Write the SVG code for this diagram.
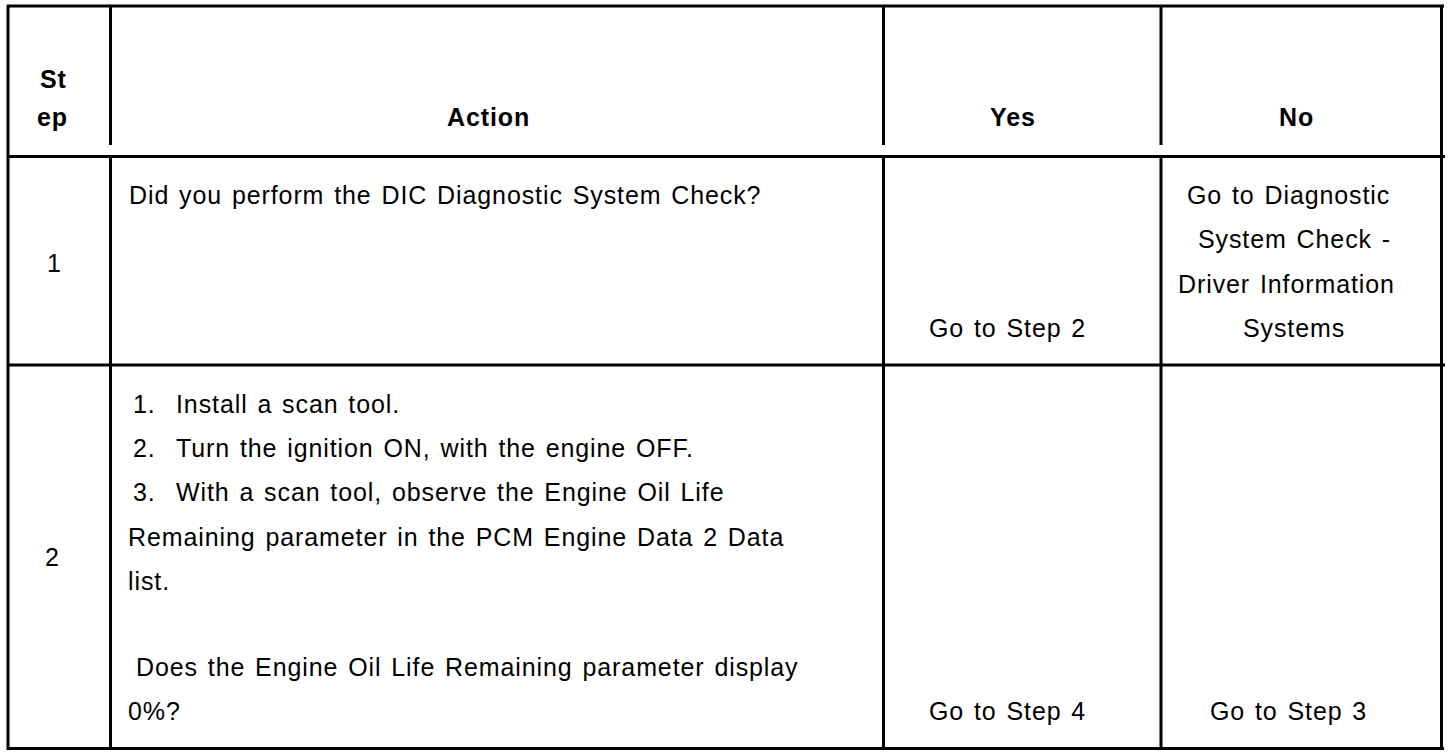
<svg xmlns="http://www.w3.org/2000/svg" width="1456" height="754" viewBox="0 0 1456 754">
<style>
  .ln { stroke: #000; stroke-width: 3; fill: none; }
  text { font-family: "Liberation Sans", Arial, sans-serif; font-size: 25px; letter-spacing: 0.9px; word-spacing: 2px; fill: #000; }
  .b { font-weight: bold; }
</style>
<rect x="0" y="0" width="1456" height="754" fill="#fff"/>
<g id="grid">
  <line class="ln" x1="7" y1="6" x2="1444" y2="6"/>
  <line class="ln" x1="8" y1="5" x2="8" y2="750"/>
  <line class="ln" x1="1441.5" y1="5" x2="1441.5" y2="750"/>
  <line class="ln" x1="7" y1="748.5" x2="1444" y2="748.5"/>
  <line class="ln" x1="7" y1="156.5" x2="1445" y2="156.5"/>
  <line class="ln" x1="7" y1="365" x2="1445" y2="365"/>
  <line class="ln" x1="110.5" y1="5" x2="110.5" y2="145"/>
  <line class="ln" x1="110.5" y1="157" x2="110.5" y2="749"/>
  <line class="ln" x1="883.5" y1="5" x2="883.5" y2="145"/>
  <line class="ln" x1="883.5" y1="157" x2="883.5" y2="749"/>
  <line class="ln" x1="1161" y1="5" x2="1161" y2="145"/>
  <line class="ln" x1="1161" y1="157" x2="1161" y2="749"/>
</g>
<g id="header">
  <text class="b" x="40" y="88">St</text>
  <text class="b" x="37" y="126">ep</text>
  <text class="b" x="447" y="126">Action</text>
  <text class="b" x="990" y="126">Yes</text>
  <text class="b" x="1279" y="126">No</text>
</g>
<g id="row1">
  <text x="47" y="272">1</text>
  <text x="129" y="204">Did you perform the DIC Diagnostic System Check?</text>
  <text x="929" y="337">Go to Step 2</text>
  <text x="1187" y="204">Go to Diagnostic</text>
  <text x="1198" y="248">System Check -</text>
  <text x="1178" y="293">Driver Information</text>
  <text x="1243" y="337">Systems</text>
</g>
<g id="row2">
  <text x="45" y="566">2</text>
  <text y="413"><tspan x="133">1.</tspan><tspan x="176">Install a scan tool.</tspan></text>
  <text y="457"><tspan x="133">2.</tspan><tspan x="176">Turn the ignition ON, with the engine OFF.</tspan></text>
  <text y="501"><tspan x="133">3.</tspan><tspan x="176">With a scan tool, observe the Engine Oil Life</tspan></text>
  <text x="128" y="546">Remaining parameter in the PCM Engine Data 2 Data</text>
  <text x="128" y="590">list.</text>
  <text x="136" y="676">Does the Engine Oil Life Remaining parameter display</text>
  <text x="128" y="720">0%?</text>
  <text x="929" y="720">Go to Step 4</text>
  <text x="1210" y="720">Go to Step 3</text>
</g>
</svg>
